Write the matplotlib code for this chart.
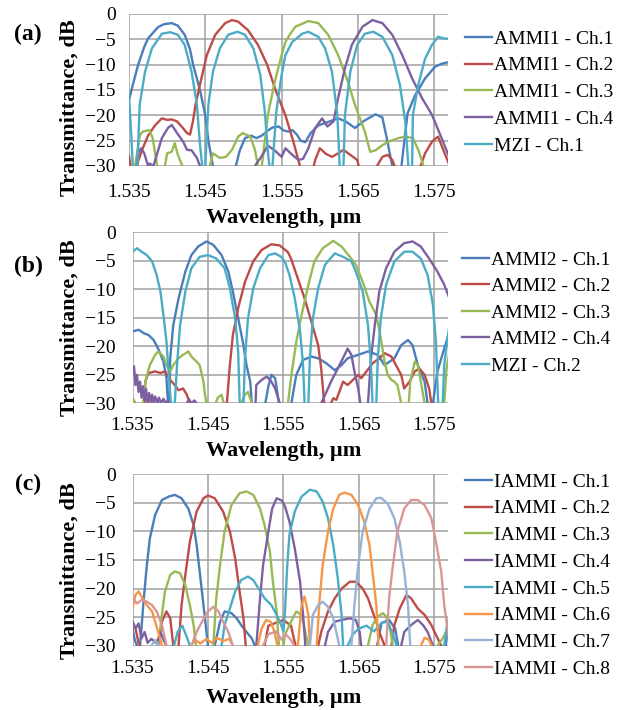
import numpy as np
import matplotlib
matplotlib.use("Agg")
import matplotlib.pyplot as plt

plt.rcParams['font.family'] = ['Liberation Serif', 'DejaVu Serif']

# wavelength in nm, transmittance in dB (values below -30 dB are off the chart)
a_ch1 = [(1535.0,-17),(1535.5,-14),(1536.2,-10),(1537.0,-6.5),(1537.5,-4.8),(1538.8,-2.6),(1539.6,-2.0),(1540.6,-1.8),
         (1541.4,-2.3),(1542.3,-4.1),(1543.0,-7),(1543.4,-10),(1544.3,-15),(1545.0,-20),(1545.4,-25),(1546.0,-30),
         (1546.3,-40),(1548.7,-40),(1549.0,-30),(1549.5,-27),(1550.2,-24.5),(1551.0,-24),(1551.7,-24.5),(1552.4,-24),
         (1553.2,-23),(1553.8,-22.4),(1554.6,-22.2),(1555.3,-23),(1555.9,-23.2),(1556.4,-22.9),(1557.0,-23.8),
         (1557.5,-25),(1558.1,-25.3),(1558.8,-23.5),(1559.8,-22),(1561.1,-21.3),(1562.4,-20.6),(1563.4,-21.2),
         (1564.6,-22.5),(1565.2,-21.8),(1565.9,-21),(1567.3,-19.8),(1568.2,-20.4),(1568.8,-24.7),(1569.5,-30),
         (1569.8,-40),(1570.4,-40),(1570.7,-30),(1571.5,-19.6),(1572.5,-16),(1573.8,-12.7),(1575.1,-10.4),
         (1576.0,-9.8),(1576.9,-9.5)]
a_ch2 = [(1535.0,-28),(1535.2,-30),(1535.3,-40),(1535.9,-40),(1536.1,-30),(1536.2,-29),(1536.8,-26.5),(1537.5,-24),
         (1538.4,-22),(1539.3,-20.6),(1540.0,-20.9),(1540.6,-20.8),(1541.3,-21.2),(1542.0,-22.4),(1542.6,-23.5),
         (1543.0,-23.8),(1543.4,-21),(1543.7,-18),(1544.3,-13.9),(1545.2,-8.1),(1546.3,-4.1),(1547.6,-1.8),
         (1548.5,-1.2),(1549.3,-1.5),(1550.6,-3.2),(1551.9,-6.1),(1553.1,-10),(1554.2,-15),(1555.5,-20),
         (1556.5,-25),(1557.4,-30),(1557.6,-40),(1559.0,-40),(1559.2,-30),(1559.4,-28.8),(1560.0,-26.5),
         (1560.8,-27.6),(1561.6,-28.2),(1562.4,-27.5),(1563.1,-26.8),(1564.0,-27.8),(1564.9,-28.8),(1565.1,-30),
         (1565.3,-40),(1567.3,-40),(1567.5,-30),(1568.2,-28.2),(1568.9,-27.8),(1569.5,-28.8),(1569.8,-30),
         (1570.0,-40),(1573.0,-40),(1573.2,-30),(1573.8,-27.5),(1574.7,-25.2),(1575.5,-24.2),(1576.1,-26.5),
         (1576.9,-29.5)]
a_ch3 = [(1535.7,-40),(1535.8,-30),(1536.4,-24),(1536.8,-23.2),(1537.7,-22.9),(1538.1,-24.5),(1538.7,-30),
         (1538.8,-40),(1539.6,-40),(1539.7,-30),(1540.0,-27.5),(1540.6,-27.2),(1541.0,-25.5),(1541.4,-27.8),
         (1542.0,-30),(1542.1,-40),(1545.5,-40),(1545.6,-30),(1546.0,-27.5),(1546.9,-28.4),(1547.7,-28.2),
         (1548.5,-26.8),(1549.3,-24.2),(1549.9,-23.5),(1550.9,-24.2),(1551.5,-26.8),(1551.9,-30),(1552.0,-40),
         (1552.3,-40),(1552.4,-30),(1552.8,-25),(1553.2,-19.9),(1554.1,-13.4),(1555.0,-8.1),(1555.5,-5.5),
         (1556.1,-4),(1556.8,-2.5),(1558.5,-1.4),(1559.8,-1.8),(1561.1,-4.1),(1562.4,-8.1),(1563.7,-13.4),
         (1564.6,-17.9),(1565.9,-23.2),(1566.6,-27.2),(1567.3,-26.9),(1568.2,-25.9),(1569.0,-25.2),(1570.3,-24.5),
         (1571.2,-24.2),(1572.2,-24.5),(1572.9,-26.8),(1573.6,-30),(1573.8,-40),(1577.0,-40)]
a_ch4 = [(1535.0,-40),(1535.9,-40),(1536.0,-30),(1536.2,-27.5),(1536.6,-26.5),(1537.0,-27.5),(1537.5,-30),
         (1537.7,-29.5),(1538.2,-30),(1538.7,-27.5),(1539.3,-24.5),(1540.1,-22.5),(1540.6,-21.9),(1541.3,-23.5),
         (1542.1,-25.2),(1542.6,-26.8),(1543.2,-26.9),(1543.9,-28.4),(1544.3,-30),(1544.5,-40),(1551.3,-40),
         (1551.5,-30),(1552.4,-28),(1553.2,-26),(1554.0,-26.8),(1555.0,-28.2),(1555.5,-26.5),(1556.4,-27.8),
         (1557.2,-28.8),(1557.8,-28.6),(1558.5,-26.5),(1559.4,-22.5),(1560.3,-20.6),(1561.0,-22.2),(1561.8,-21.2),
         (1562.4,-16.6),(1563.3,-10.7),(1564.2,-6.1),(1565.6,-2.5),(1566.9,-1.2),(1568.2,-1.8),(1569.5,-4.1),
         (1570.8,-8.1),(1572.1,-12.7),(1573.4,-16.6),(1574.7,-19.9),(1575.8,-23.9),(1576.9,-28)]
a_mzi = [(1535.0,-16),(1535.3,-24),(1535.5,-30),(1535.6,-40),(1536.0,-40),(1536.1,-30),(1536.4,-17.9),(1537.1,-11.4),
         (1538.0,-6.8),(1539.3,-3.9),(1540.4,-3.6),(1541.4,-4.1),(1542.3,-6.1),(1543.2,-11.4),(1543.9,-17.9),
         (1544.3,-25.8),(1544.6,-30),(1544.7,-40),(1544.9,-40),(1545.0,-30),(1545.4,-17.9),(1546.0,-11.4),
         (1546.9,-6.8),(1548.0,-4.1),(1549.2,-3.5),(1550.2,-4.1),(1551.3,-6.8),(1552.2,-12),(1552.8,-19.3),
         (1553.2,-27.2),(1553.4,-30),(1553.5,-40),(1553.7,-40),(1553.8,-30),(1554.3,-19.3),(1555.0,-12),
         (1555.5,-8.1),(1556.4,-5.5),(1557.7,-3.9),(1558.5,-3.5),(1559.8,-4.5),(1560.7,-6.8),(1561.6,-11.4),
         (1562.3,-19.9),(1562.6,-30),(1562.7,-40),(1563.0,-40),(1563.1,-30),(1563.3,-19.9),(1564.0,-11.4),
         (1564.9,-6.1),(1565.9,-3.9),(1567.0,-3.5),(1568.2,-4.5),(1569.5,-8.1),(1570.5,-14),(1571.2,-21.2),
         (1571.6,-30),(1571.7,-40),(1572.0,-40),(1572.1,-30),(1572.2,-19.9),(1572.9,-14),(1573.8,-8.8),
         (1574.7,-6.1),(1575.5,-4.5),(1576.2,-4.8),(1576.9,-4.9)]

b_ch1 = [(1535.0,-17.4),(1535.8,-17.1),(1536.5,-17.7),(1537.1,-18),(1537.8,-18.9),(1538.4,-20.4),(1539.1,-22.7),
         (1539.5,-25.6),(1539.7,-30),(1539.8,-40),(1539.9,-30),(1540.0,-22),(1540.4,-16.3),(1541.1,-11.6),
         (1542.0,-6.9),(1542.8,-4),(1543.7,-2.5),(1544.8,-1.6),(1545.7,-2.2),(1546.8,-4),(1547.7,-6.9),
         (1548.3,-10.4),(1549.0,-15.1),(1549.7,-19.8),(1550.1,-23.3),(1550.6,-26.2),(1550.8,-30),(1550.9,-40),
         (1552.4,-40),(1552.6,-30),(1553.0,-27),(1553.4,-25),(1553.9,-25.6),(1554.4,-30),(1554.5,-40),
         (1555.9,-40),(1556.05,-30),(1556.7,-25),(1557.6,-22.4),(1558.7,-21.8),(1559.6,-22.1),(1560.7,-23),
         (1561.8,-24.2),(1562.7,-23.3),(1563.5,-22.1),(1564.9,-21.5),(1566.2,-20.9),(1567.5,-21.5),(1568.4,-23.3),
         (1569.7,-22.1),(1570.6,-19.8),(1571.5,-18.9),(1572.1,-19.8),(1572.8,-23.3),(1573.7,-26.2),(1574.1,-30),
         (1574.2,-40),(1574.7,-40),(1574.8,-30),(1575.4,-24.4),(1576.3,-20.4),(1577.0,-17.4)]
b_ch2 = [(1535.0,-40),(1536.4,-40),(1536.6,-30),(1536.7,-26.2),(1537.1,-24.7),(1538.0,-24.4),(1538.7,-24.7),
         (1539.3,-24.4),(1540.0,-25.9),(1540.6,-26.8),(1541.1,-27.7),(1541.7,-27.4),(1542.2,-28.5),(1542.6,-30),
         (1542.7,-40),(1547.4,-40),(1547.5,-30),(1547.9,-23.3),(1548.3,-18),(1549.0,-13.3),(1549.9,-8.7),
         (1551.0,-5.1),(1552.1,-3.1),(1553.4,-2.1),(1554.5,-2.3),(1555.6,-3.5),(1556.0,-4.6),(1556.9,-8.1),
         (1557.8,-11.6),(1558.7,-15.7),(1559.6,-19.8),(1560.0,-23.9),(1560.4,-30),(1560.5,-40),(1561.2,-40),
         (1561.3,-30),(1561.6,-29.1),(1562.0,-29.4),(1562.4,-28),(1562.9,-26.2),(1563.5,-26.8),(1564.2,-25.9),
         (1564.9,-25),(1565.3,-25.6),(1566.0,-24.4),(1566.8,-23),(1567.7,-22.1),(1568.4,-21.2),(1569.3,-21.8),
         (1569.9,-23.3),(1570.6,-25),(1571.0,-27.4),(1571.7,-26.2),(1572.4,-24.4),(1573.0,-23.9),(1573.7,-25),
         (1574.3,-27.4),(1574.6,-30),(1574.7,-40),(1577.0,-40)]
b_ch3 = [(1535.0,-29),(1535.4,-30),(1535.5,-40),(1536.3,-40),(1536.4,-30),(1536.7,-26.2),(1537.3,-23.3),
         (1538.0,-21.5),(1538.4,-20.9),(1539.1,-21.8),(1539.5,-23.3),(1540.0,-24.4),(1540.4,-23.3),(1541.1,-22.1),
         (1541.7,-21.5),(1542.4,-20.9),(1542.8,-21.8),(1543.5,-22.7),(1543.9,-23.3),(1544.4,-26.2),(1544.6,-28.5),
         (1544.8,-30),(1544.9,-40),(1545.8,-40),(1546.0,-30),(1546.3,-29),(1546.8,-28.5),(1547.1,-30),(1547.2,-40),
         (1549.3,-40),(1549.4,-30),(1549.9,-28.5),(1550.3,-28),(1550.8,-30),(1550.9,-40),(1555.5,-40),(1555.6,-30),
         (1556.05,-25),(1556.7,-19.2),(1557.4,-14.5),(1558.3,-9.2),(1559.1,-5.1),(1560.2,-2.8),(1561.6,-1.5),
         (1562.7,-2.5),(1563.8,-4.3),(1564.6,-5.7),(1565.5,-8.7),(1566.4,-12.2),(1567.3,-14.5),(1567.9,-18.6),
         (1568.4,-22.7),(1568.8,-25),(1569.3,-25.9),(1569.7,-26.2),(1570.1,-26.8),(1570.6,-30),(1570.7,-40),
         (1571.5,-40),(1571.6,-30),(1571.8,-26.2),(1572.4,-22.7),(1572.8,-23.2),(1573.2,-26.2),(1573.7,-30),
         (1573.8,-40),(1576.2,-40),(1576.3,-30),(1576.6,-24),(1577.0,-20.9)]
b_ch4 = [(1535.0,-24.4),(1535.2,-23.5),(1535.4,-26.8),(1535.6,-25),(1535.8,-28),(1536.0,-26.2),(1536.2,-29),
         (1536.4,-27),(1536.6,-29.5),(1536.8,-27.5),(1537.0,-30),(1537.2,-28.2),(1537.4,-29.8),(1537.6,-28.5),
         (1537.8,-30),(1538.0,-28.8),(1538.3,-30),(1538.5,-29),(1538.8,-30),(1539.1,-29.2),(1539.4,-30),
         (1539.7,-29.5),(1540.0,-30),(1540.1,-40),(1542.0,-40),(1542.2,-30),(1542.5,-29.3),(1542.8,-30),
         (1543.2,-29.5),(1543.5,-30),(1543.6,-40),(1551.2,-40),(1551.3,-30),(1551.4,-26.8),(1552.1,-25.9),
         (1552.8,-25.3),(1553.4,-26.2),(1553.9,-27.4),(1554.3,-29.1),(1554.5,-30),(1554.6,-40),(1559.9,-40),
         (1560.0,-30),(1560.7,-28),(1561.3,-26.2),(1562.2,-23.9),(1563.1,-21.5),(1563.5,-20.4),(1564.0,-21.5),
         (1564.4,-24.4),(1564.9,-27.4),(1565.2,-30),(1565.3,-40),(1566.1,-40),(1566.2,-30),(1566.6,-22.1),
         (1567.1,-16.3),(1567.7,-10.4),(1568.6,-6.3),(1569.7,-3.4),(1571.0,-1.9),(1572.1,-1.6),(1573.2,-2.5),
         (1574.3,-4.6),(1575.4,-6.9),(1576.3,-9.2),(1577.0,-11.6)]
b_mzi = [(1535.0,-3.4),(1535.6,-2.8),(1536.2,-3.4),(1536.9,-4),(1537.6,-5.1),(1538.2,-7.5),(1538.7,-10.4),
         (1539.1,-14.5),(1539.5,-19.2),(1539.8,-25),(1540.1,-30),(1540.2,-40),(1540.5,-40),(1540.6,-30),
         (1540.9,-23.3),(1541.3,-16.3),(1542.0,-10.4),(1542.8,-6.3),(1543.9,-4.3),(1545.0,-4),(1546.1,-4.6),
         (1547.2,-6.3),(1547.9,-9.8),(1548.6,-15.1),(1549.0,-20.9),(1549.2,-30),(1549.3,-40),(1549.6,-40),
         (1549.7,-30),(1549.9,-22.1),(1550.3,-15.1),(1551.0,-9.8),(1551.9,-6.3),(1553.0,-4),(1553.9,-3.7),
         (1554.7,-4.3),(1555.2,-5.2),(1555.8,-7.5),(1556.5,-11.6),(1557.2,-17.4),(1557.6,-23.3),(1557.8,-30),
         (1557.9,-40),(1558.2,-40),(1558.3,-30),(1558.5,-22.1),(1558.9,-15.1),(1559.6,-9.8),(1560.5,-5.7),
         (1561.8,-3.7),(1562.9,-4.3),(1564.0,-5.1),(1564.6,-6.9),(1565.5,-10.4),(1566.2,-16.3),(1566.6,-23.3),
         (1566.8,-30),(1566.9,-40),(1567.2,-40),(1567.3,-30),(1567.5,-22.1),(1567.9,-15.1),(1568.6,-9.2),
         (1569.7,-5.1),(1571.0,-3.4),(1572.1,-3.4),(1573.2,-4.6),(1574.1,-7.5),(1574.8,-12.7),(1575.2,-19.2),
         (1575.5,-30),(1575.6,-40),(1576.0,-40),(1576.1,-30),(1576.3,-23.3),(1576.8,-18),(1577.0,-16.3)]

c_ch1 = [(1535.0,-27),(1535.3,-29),(1535.6,-30),(1535.8,-40),(1535.9,-40),(1536.0,-30),(1536.5,-21.7),(1536.9,-15.9),
         (1537.3,-11.2),(1538.0,-7.1),(1538.9,-4.5),(1539.8,-3.9),(1540.6,-3.6),(1541.5,-4.2),(1542.4,-6),
         (1543.1,-8.9),(1543.5,-12.4),(1543.9,-17),(1544.3,-21.7),(1544.6,-25.2),(1545.0,-30),(1545.1,-40),
         (1545.8,-40),(1545.9,-30),(1546.6,-25.8),(1547.2,-24),(1548.1,-24.3),(1548.8,-25.2),(1549.4,-26.4),
         (1550.1,-27.6),(1550.8,-28.7),(1551.2,-30),(1551.3,-40),(1567.3,-40),(1567.4,-30),(1568.0,-26),
         (1569.0,-25.5),(1569.8,-27),(1570.2,-30),(1570.3,-40),(1576.4,-40),(1576.5,-30),(1577.0,-25)]
c_ch2 = [(1535.0,-25.8),(1535.4,-27),(1535.8,-29.5),(1536.0,-30),(1536.1,-40),(1538.3,-40),(1538.4,-30),
         (1538.9,-25.8),(1539.5,-24),(1540.0,-25.2),(1540.4,-30),(1540.5,-40),(1541.0,-40),(1541.1,-30),
         (1541.5,-22.9),(1542.0,-17.6),(1542.6,-11.8),(1543.5,-6.5),(1544.4,-4.2),(1545.0,-3.7),(1545.9,-4.2),
         (1547.0,-6.5),(1547.9,-10),(1548.6,-14.7),(1549.2,-20.6),(1549.7,-25.2),(1550.0,-30),(1550.1,-40),
         (1552.4,-40),(1552.5,-30),(1553.0,-26.5),(1554.0,-26),(1555.0,-25.5),(1556.0,-26.5),(1556.6,-30),
         (1556.7,-40),(1559.5,-40),(1559.6,-30),(1560.0,-27.6),(1560.9,-24),(1561.8,-21.7),(1562.7,-20),
         (1563.8,-18.8),(1564.6,-18.8),(1565.5,-20),(1566.2,-21.7),(1566.8,-24),(1567.3,-25.8),(1567.7,-27.6),
         (1568.4,-30),(1568.5,-40),(1569.2,-40),(1569.3,-30),(1569.7,-26.4),(1570.4,-23.5),(1571.3,-21.1),
         (1571.9,-21.7),(1572.8,-23.5),(1573.7,-24.6),(1574.6,-26.4),(1575.2,-28.1),(1575.9,-30),(1576.0,-40),
         (1577.0,-40)]
c_ch3 = [(1538.3,-40),(1538.4,-30),(1538.9,-24.6),(1539.3,-20.5),(1540.0,-17.6),(1540.6,-17),(1541.3,-17.3),
         (1542.0,-19.4),(1542.6,-22.9),(1543.1,-26.4),(1543.4,-30),(1543.5,-40),(1545.6,-40),(1545.7,-30),
         (1546.1,-21.7),(1546.6,-15.9),(1547.2,-10),(1548.1,-5.4),(1549.2,-3.3),(1550.1,-3),(1551.0,-3.6),
         (1551.9,-6),(1552.5,-8.9),(1553.2,-13.5),(1553.6,-18.8),(1554.1,-24),(1554.4,-30),(1554.5,-40),
         (1554.9,-40),(1555.0,-30),(1555.2,-28.1),(1556.0,-25.8),(1556.7,-24),(1557.4,-24.6),(1557.8,-27),
         (1558.3,-30),(1558.4,-40),(1566.1,-40),(1566.2,-30),(1566.8,-26.4),(1567.5,-24.9),(1568.2,-24.3),
         (1568.6,-24.9),(1569.1,-27),(1569.5,-30),(1569.6,-40),(1575.3,-40),(1575.4,-30),(1576.1,-28.7),
         (1577.0,-26.4)]
c_ch4 = [(1535.0,-25.8),(1535.4,-27),(1535.8,-26.1),(1536.2,-28.7),(1536.6,-27.6),(1537.0,-29.5),(1537.5,-28.8),
         (1538.2,-29.6),(1538.7,-27.6),(1539.1,-29),(1539.5,-30),(1539.6,-40),(1551.3,-40),(1551.4,-30),
         (1551.9,-21.7),(1552.3,-15.9),(1553.0,-10),(1553.5,-6),(1554.1,-4.2),(1554.8,-4.6),(1555.2,-5.6),
         (1555.8,-8.3),(1556.5,-13),(1557.2,-18.8),(1557.6,-24.6),(1557.9,-30),(1558.0,-40),(1560.4,-40),
         (1560.5,-30),(1560.9,-27.6),(1561.8,-25.8),(1562.7,-25.5),(1563.8,-25.2),(1564.6,-25.5),(1565.1,-27.6),
         (1565.3,-30),(1565.4,-40),(1570.5,-40),(1570.6,-30),(1571.0,-27.6),(1571.9,-26.4),(1572.8,-25.5),
         (1573.5,-26.4),(1574.1,-27.6),(1574.8,-30),(1574.9,-40),(1577.0,-40)]
c_ch5 = [(1540.4,-40),(1540.5,-30),(1541.0,-27.5),(1541.6,-26.5),(1542.2,-28.5),(1542.6,-30),(1542.7,-40),
         (1546.7,-40),(1546.8,-30),(1547.2,-26.4),(1547.9,-23.5),(1548.6,-20.5),(1549.4,-18.5),(1550.3,-17.9),
         (1551.0,-18.5),(1551.7,-20),(1552.5,-21.7),(1553.4,-22.9),(1554.1,-24.6),(1554.7,-26.4),(1555.0,-27.5),
         (1555.2,-24),(1555.5,-16),(1555.8,-10.5),(1556.5,-6.5),(1557.4,-3.9),(1558.5,-2.7),(1559.4,-3),
         (1560.2,-4.8),(1560.9,-7.7),(1561.6,-12.4),(1562.2,-18.2),(1562.7,-24.6),(1562.9,-30),(1563.0,-40),
         (1563.4,-40),(1563.5,-30),(1564.2,-28),(1565.0,-27),(1566.0,-26.5),(1567.0,-27.5),(1568.0,-26),
         (1568.8,-25.8),(1569.5,-28),(1570.0,-30),(1570.1,-40),(1576.2,-40),(1576.3,-30),(1576.7,-26),
         (1577.0,-25)]
c_ch6 = [(1535.0,-23.5),(1535.4,-21.1),(1535.8,-20.5),(1536.2,-21.4),(1536.9,-22.9),(1537.6,-24),(1538.0,-25.8),
         (1538.4,-27.6),(1538.9,-30),(1539.0,-40),(1542.6,-40),(1542.7,-30),(1543.3,-29),(1544.0,-29.6),
         (1544.8,-28.8),(1545.5,-29.5),(1546.2,-28.6),(1547.0,-29.2),(1547.8,-28.8),(1548.3,-30),(1548.4,-40),
         (1551.5,-40),(1551.6,-30),(1552.1,-27),(1552.7,-25.5),(1553.3,-25.8),(1553.8,-27.5),(1554.2,-30),
         (1554.3,-40),(1556.8,-40),(1556.9,-30),(1557.4,-22.9),(1557.8,-21.4),(1558.3,-24.6),(1558.5,-30),
         (1558.6,-40),(1559.3,-40),(1559.4,-30),(1559.8,-21.7),(1560.2,-15.9),(1560.9,-10),(1561.6,-6),
         (1562.4,-3.6),(1563.1,-3.2),(1564.0,-3.6),(1564.9,-5.4),(1565.7,-8.3),(1566.4,-12.4),(1566.8,-17),
         (1567.3,-22.9),(1567.6,-30),(1567.7,-40),(1573.1,-40),(1573.2,-30),(1573.7,-28.6),(1574.3,-29),
         (1574.6,-30),(1574.7,-40),(1577.0,-40)]
c_ch7 = [(1537.4,-40),(1537.5,-30),(1538.0,-29),(1538.5,-30),(1538.6,-40),(1558.4,-40),(1558.5,-30),
         (1558.9,-24.6),(1559.6,-22.9),(1560.2,-22.3),(1560.9,-23.2),(1561.6,-25.2),(1562.0,-27.6),(1562.4,-30),
         (1562.5,-40),(1563.9,-40),(1564.0,-30),(1564.4,-22.9),(1564.9,-15.9),(1565.5,-10),(1566.4,-6),
         (1567.3,-4.2),(1567.9,-4.1),(1568.8,-5.1),(1569.7,-7.7),(1570.4,-11.8),(1571.0,-17),(1571.5,-22.9),
         (1571.8,-30),(1571.9,-40)]
c_ch8 = [(1535.0,-21.7),(1535.6,-22.6),(1536.2,-22),(1536.9,-22.3),(1537.6,-22.9),(1538.2,-24),(1538.9,-26.4),
         (1539.5,-30),(1539.6,-40),(1542.7,-40),(1542.8,-30),(1543.5,-27.6),(1544.2,-25.8),(1545.0,-24),
         (1545.7,-23.2),(1546.4,-24),(1547.0,-25.8),(1547.7,-27.6),(1548.3,-30),(1548.4,-40),(1552.2,-40),
         (1552.3,-30),(1553.0,-28),(1554.0,-27.5),(1554.8,-29),(1555.3,-28),(1556.0,-29),(1556.4,-30),
         (1556.5,-40),(1568.5,-40),(1568.6,-30),(1569.0,-21.7),(1569.5,-15.9),(1570.1,-10),(1571.0,-6),
         (1571.9,-4.5),(1572.8,-4.5),(1573.7,-5.4),(1574.6,-7.7),(1575.2,-11.8),(1575.9,-17),(1576.3,-22.9),
         (1576.8,-27.6),(1577.0,-30)]

labels_a = ['AMMI1 - Ch.1', 'AMMI1 - Ch.2', 'AMMI1 - Ch.3', 'AMMI1 - Ch.4', 'MZI - Ch.1']
labels_b = ['AMMI2 - Ch.1', 'AMMI2 - Ch.2', 'AMMI2 - Ch.3', 'AMMI2 - Ch.4', 'MZI - Ch.2']
labels_c = ['IAMMI - Ch.%d' % i for i in range(1, 9)]
xticks = [1.535, 1.545, 1.555, 1.565, 1.575]
yticks = [0, -5, -10, -15, -20, -25, -30]

colors = ['#4A7EBB', '#BE4B48', '#98B954', '#7D60A0', '#4BACC6', '#F79646', '#95B3D7', '#D99694']

W, H = 624, 710
fig = plt.figure(figsize=(W / 100, H / 100), dpi=100)


def fx(px):
    return px / W


def fy(py):
    return 1 - py / H


def panel(left, top, bottom, series, labels, xpad, ypad, leg_top, leg_left, leg_space):
    ax = fig.add_axes([fx(left), fy(bottom), fx(448) - fx(left), (bottom - top) / H])
    lines = []
    for s, c in zip(series, colors):
        d = np.array(s)
        ln, = ax.plot(d[:, 0] / 1000, d[:, 1], color=c, lw=1.7)
        lines.append(ln)
    ax.set_xlim(1.535, 1.5768)
    ax.set_ylim(-30, 0)
    ax.set_xticks(xticks)
    ax.set_xticklabels(['%.3f' % t for t in xticks])
    ax.set_yticks(yticks)
    ax.grid(True, color='#A0A0A0', lw=1.1)
    ax.set_axisbelow(True)
    for sp in ax.spines.values():
        sp.set_visible(False)
    ax.tick_params(axis='x', length=0, pad=xpad, labelsize=14)
    ax.tick_params(axis='y', length=0, pad=ypad, labelsize=14)
    ax.legend(lines, labels, loc='upper left', bbox_to_anchor=(fx(leg_left), fy(leg_top)),
              bbox_transform=fig.transFigure, frameon=False, borderpad=0, borderaxespad=0,
              handlelength=1.4, handletextpad=0.08, labelspacing=leg_space, fontsize=14)
    return ax


panel(129, 14, 166, [a_ch1, a_ch2, a_ch3, a_ch4, a_mzi], labels_a, 13, 9.4, 30, 465, 0.47)
panel(132.5, 232.3, 403.3, [b_ch1, b_ch2, b_ch3, b_ch4, b_mzi], labels_b, 10, 11.9, 251, 462, 0.46)
panel(132.5, 474.3, 645.7, [c_ch1, c_ch2, c_ch3, c_ch4, c_ch5, c_ch6, c_ch7, c_ch8], labels_c, 10, 11.9, 473, 465, 0.47)

for txt, y in [('(a)', 34), ('(b)', 266), ('(c)', 484)]:
    fig.text(fx(28), fy(y), txt, ha='center', va='center', fontsize=17, fontweight='bold')
for y in [108, 328, 571]:
    fig.text(fx(70), fy(y), 'Transmittance, dB', rotation=90, ha='center', va='center',
             fontsize=16, fontweight='bold')
for y in [223, 456, 703]:
    fig.text(fx(284), fy(y), 'Wavelength, µm', ha='center', va='baseline', fontsize=16, fontweight='bold')

fig.savefig('out.png', dpi=100)
